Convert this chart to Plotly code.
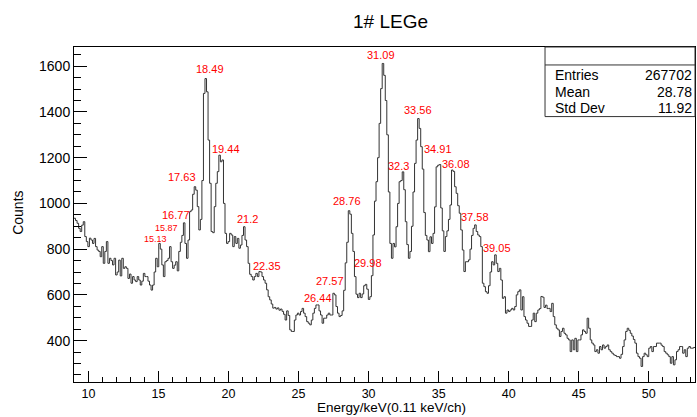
import plotly.graph_objects as go

# Histogram definition (energy axis, 0.11 keV per channel)
x_start = 8.97
bin_width = 0.11
counts = [
    935, 925, 913, 891, 877, 905, 920, 855, 833, 811,
    848, 840, 825, 847, 811, 796, 790, 767, 811, 738,
    790, 833, 738, 760, 750, 731, 760, 687, 700, 752,
    683, 760, 716, 723, 716, 672, 691, 651, 680, 665,
    658, 680, 665, 643, 660, 694, 680, 680, 660, 643,
    621, 643, 700, 760, 723, 825, 800, 731, 680, 745,
    750, 760, 811, 745, 716, 730, 745, 705, 790, 830,
    860, 915, 825, 760, 840, 964, 971, 1040, 1073, 1058,
    986, 884, 930, 1100, 1481, 1546, 1488, 1277, 1088, 877,
    872, 986, 1088, 1139, 1211, 1182, 1190, 1000, 869, 825,
    833, 869, 862, 811, 855, 825, 847, 804, 818, 860,
    898, 840, 811, 738, 690, 680, 665, 680, 694, 680,
    702, 700, 680, 665, 651, 622, 592, 578, 560, 542,
    545, 538, 543, 533, 538, 528, 515, 490, 530, 510,
    447, 440, 440, 490, 512, 520, 512, 527, 541, 520,
    505, 483, 476, 469, 490, 520, 541, 556, 556, 530,
    512, 476, 498, 498, 512, 520, 512, 512, 607, 600,
    549, 520, 505, 510, 530, 620, 740, 830, 968, 953,
    869, 790, 680, 603, 588, 607, 588, 604, 640, 646,
    625, 580, 592, 684, 862, 1010, 1095, 1200, 1350, 1502,
    1612, 1560, 1450, 1300, 1050, 825, 760, 825, 810, 898,
    1000, 1095, 1100, 1138, 1060, 920, 820, 760, 790, 900,
    1050, 1175, 1277, 1371, 1328, 1248, 1150, 960, 860, 840,
    789, 854, 825, 869, 985, 1160, 1167, 1170, 980, 880,
    790, 855, 880, 930, 993, 1146, 1140, 1073, 1044, 990,
    957, 884, 796, 702, 745, 745, 753, 800, 860, 891,
    906, 877, 862, 855, 811, 651, 636, 614, 607, 640,
    700, 745, 731, 775, 738, 702, 716, 665, 585, 592,
    520, 534, 527, 534, 541, 534, 549, 600, 614, 622,
    534, 592, 505, 490, 476, 462, 462, 490, 520, 483,
    520, 534, 540, 593, 590, 545, 555, 540, 541, 527,
    563, 505, 469, 454, 447, 418, 440, 454, 432, 425,
    410, 403, 352, 403, 360, 410, 352, 403, 403, 425,
    447, 440, 432, 498, 454, 403, 389, 381, 352, 360,
    345, 374, 360, 381, 367, 374, 381, 360, 352, 345,
    338, 335, 330, 330, 323, 340, 374, 403, 440, 454,
    445, 432, 420, 405, 389, 345, 330, 323, 287, 330,
    345, 338, 330, 367, 374, 352, 374, 374, 389, 389,
    389, 380, 374, 352, 345, 338, 330, 301, 330, 294,
    316, 352, 360, 374, 374, 345, 360, 330, 367, 374,
    367, 367, 370,
]

# Peak labels (text, anchor energy, anchor count, font size)
peak_labels = ["15.13", "15.87", "16.77", "17.63", "18.49", "19.44", "21.2", "22.35",
               "26.44", "27.57", "28.76", "29.98", "31.09", "32.3", "33.56", "34.91",
               "36.08", "37.58", "39.05"]
label_x = [14.81, 15.57, 16.28, 16.66, 18.71, 19.85, 21.34, 22.72,
           26.37, 27.25, 28.46, 29.93, 30.89, 32.14, 33.56, 34.97,
           36.23, 37.58, 39.19]
label_y = [843, 894, 949, 1114, 1587, 1238, 931, 727,
           586, 662, 1010, 741, 1651, 1163, 1408, 1238,
           1172, 939, 804]
label_size = [9, 9, 11, 11, 11, 11, 11, 11,
              11, 11, 11, 11, 11, 11, 11, 11,
              11, 11, 11]

stats_names = ["Entries", "Mean", "Std Dev"]
stats_values = ["267702", "28.78", "11.92"]

FONT = "Liberation Sans, Arial, Helvetica, sans-serif"

edges = [x_start + bin_width * i for i in range(len(counts) + 1)]
ys = counts + [counts[-1]]

fig = go.Figure()
fig.add_trace(go.Scatter(
    x=edges, y=ys, mode="lines",
    line=dict(shape="hv", color="#333333", width=1),
    hoverinfo="skip", showlegend=False,
))

x_max = x_start + bin_width * len(counts)

fig.update_layout(
    width=697, height=417, autosize=False,
    margin=dict(l=74, r=2, t=47, b=34.5, pad=0),
    paper_bgcolor="white", plot_bgcolor="white",
    font=dict(family=FONT, color="black"),
    showlegend=False,
    title=dict(text="1# LEGe", font=dict(size=19, family=FONT, color="black"),
               x=0.5097, xref="paper", xanchor="center",
               y=0.950, yref="container", yanchor="middle"),
)

fig.update_xaxes(
    range=[x_start, x_max], showgrid=False, zeroline=False,
    showline=True, linecolor="black", linewidth=1, mirror=True,
    ticks="inside", ticklen=11, tickwidth=1, tickcolor="black",
    tick0=0, dtick=5, tickfont=dict(size=12.5, family=FONT),
    minor=dict(ticks="inside", ticklen=5.5, dtick=1, tickcolor="black", tickwidth=1, showgrid=False),
)
fig.update_yaxes(
    range=[219, 1684], showgrid=False, zeroline=False,
    showline=True, linecolor="black", linewidth=1, mirror=True,
    ticks="inside", ticklen=13, tickwidth=1, tickcolor="black",
    tick0=0, dtick=200, tickfont=dict(size=14, family=FONT),
    minor=dict(ticks="inside", ticklen=7, dtick=50, tickcolor="black", tickwidth=1, showgrid=False),
)

annotations = []
for t, lx, ly, s in zip(peak_labels, label_x, label_y, label_size):
    annotations.append(dict(text=t, x=lx, y=ly, xref="x", yref="y",
                            xanchor="center", yanchor="middle", showarrow=False,
                            font=dict(color="#ff0000", size=s, family=FONT)))

# axis titles
annotations.append(dict(text="Energy/keV(0.11 keV/ch)", x=0.5105, y=-0.077,
                        xref="paper", yref="paper", xanchor="center", yanchor="middle",
                        showarrow=False, font=dict(size=13.5, family=FONT)))
annotations.append(dict(text="Counts", x=-0.0902, y=0.505, textangle=-90,
                        xref="paper", yref="paper", xanchor="center", yanchor="middle",
                        showarrow=False, font=dict(size=14, family=FONT)))

# stats box
box_x0, box_x1 = 0.7585, 1.0
box_y0, box_y1, box_div = 0.7923, 1.0, 0.9464
shapes = [
    dict(type="rect", xref="paper", yref="paper", x0=box_x0, x1=box_x1, y0=box_y0, y1=box_y1,
         line=dict(color="#333333", width=1), fillcolor="white", layer="above"),
    dict(type="line", xref="paper", yref="paper", x0=box_x0, x1=box_x1, y0=box_div, y1=box_div,
         line=dict(color="#333333", width=1), layer="above"),
]
row_y = [0.9165, 0.8668, 0.8173]
for name, val, ry in zip(stats_names, stats_values, row_y):
    annotations.append(dict(text=name, x=0.7718, y=ry, xref="paper", yref="paper",
                            xanchor="left", yanchor="middle", showarrow=False,
                            font=dict(size=14, family=FONT)))
    annotations.append(dict(text=val, x=0.998, y=ry, xref="paper", yref="paper",
                            xanchor="right", yanchor="middle", showarrow=False,
                            font=dict(size=14, family=FONT)))

fig.update_layout(annotations=annotations, shapes=shapes)

fig.write_html("out.html")
